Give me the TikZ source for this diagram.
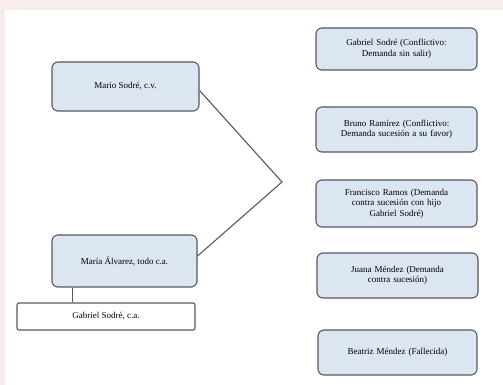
\documentclass[tikz,border=0pt]{standalone}
\usepackage{fontspec}
\setmainfont{Liberation Serif}
\usepackage{tikz}
\usetikzlibrary{positioning,calc}
\tikzset{>=latex}
\definecolor{boxblue}{RGB}{220,229,242}
\definecolor{boxline}{RGB}{85,88,94}
\definecolor{pinkedge}{RGB}{248,237,237}
\tikzset{
  persona/.style={draw=boxline,line width=1.1pt,fill=boxblue,rounded corners=6pt,
    align=center,font=\fontsize{9}{10.5}\selectfont,inner sep=2pt},
  hijo/.style={draw=boxline,line width=1.1pt,fill=white,rounded corners=2pt,
    align=center,font=\fontsize{9}{10.5}\selectfont,inner sep=2pt},
  enlace/.style={draw=boxline,line width=1.1pt}
}

\begin{document}
\begin{tikzpicture}[x=1pt,y=-1pt]
    % fondo
    \fill [pinkedge] (0,0) rectangle (503,385);
    \fill [white] (5,10) rectangle (503,385);
    \useasboundingbox (0,0) rectangle (503,385);

    % lado izquierdo
    \node [persona,minimum width=147pt,minimum height=49pt] (mario) at (125.5,86.5) {Mario Sodré, c.v.};
    \node [persona,minimum width=145pt,minimum height=52pt] (maria) at (124.5,261) {María Álvarez, todo c.a.};
    \node [hijo,minimum width=178pt,minimum height=27pt] (gabriel) at (106,316.5) {Gabriel Sodré, c.a.};

    % lado derecho
    \node [persona,minimum width=161pt,minimum height=42pt,text width=150pt] (r1) at (396.5,49) {Gabriel Sodré (Conflictivo:\\ Demanda sin salir)};
    \node [persona,minimum width=161pt,minimum height=45pt,text width=150pt] (r2) at (396.5,129.5) {Bruno Ramírez (Conflictivo:\\ Demanda sucesión a su favor)};
    \node [persona,minimum width=161pt,minimum height=47pt,text width=150pt] (r3) at (396.5,203.5) {Francisco Ramos (Demanda\\ contra sucesión con hijo\\ Gabriel Sodré)};
    \node [persona,minimum width=161pt,minimum height=45pt,text width=150pt] (r4) at (397.5,275.5) {Juana Méndez (Demanda\\ contra sucesión)};
    \node [persona,minimum width=159pt,minimum height=45pt,text width=150pt] (r5) at (397.5,352.5) {Beatriz Méndez (Fallecida)};

    % enlaces
    \coordinate (pico) at (282,182);
    \draw [enlace] ([yshift=-4pt]mario.east) -- (pico) -- ([yshift=5pt]maria.east);
    \draw [enlace] ([xshift=21pt]maria.south west) -- ([xshift=21pt]maria.south west |- gabriel.north);
\end{tikzpicture}
\end{document}
